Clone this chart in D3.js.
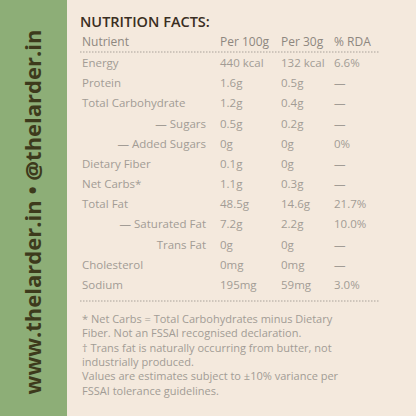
<!DOCTYPE html>
<html><head><meta charset="utf-8">
<script src="https://cdn.jsdelivr.net/npm/d3@7"></script>
<style>body{margin:0;background:#f4e9dd}text{font-family:"Open Sans",sans-serif}</style>
</head><body><svg width="416" height="416"></svg>
<script>
const nutrients = ['Energy','Protein','Total Carbohydrate','— Sugars','— Added Sugars','Dietary Fiber','Net Carbs*','Total Fat','— Saturated Fat','Trans Fat','Cholesterol','Sodium'];
const per100 = ['440 kcal','1.6g','1.2g','0.5g','0g','0.1g','1.1g','48.5g','7.2g','0g','0mg','195mg'];
const per30 = ['132 kcal','0.5g','0.4g','0.2g','0g','0g','0.3g','14.6g','2.2g','0g','0mg','59mg'];
const rda = ['6.6%','—','—','—','0%','—','—','21.7%','10.0%','—','—','3.0%'];
const indented = ['— Sugars','— Added Sugars','— Saturated Fat','Trans Fat'];
const headers = ['Nutrient','Per 100g','Per 30g','% RDA'];
const notes = ['* Net Carbs = Total Carbohydrates minus Dietary','Fiber. Not an FSSAI recognised declaration.','† Trans fat is naturally occurring from butter, not','industrially produced.','Values are estimates subject to ±10% variance per','FSSAI tolerance guidelines.'];

const svg = d3.select('svg');
svg.append('rect').attr('width',416).attr('height',416).attr('fill','#f4e9dd');
svg.append('rect').attr('width',67).attr('height',416).attr('fill','#8dae77');
svg.append('text').attr('transform','translate(41,212) rotate(-90)').attr('text-anchor','middle')
  .attr('fill','#3d3a1c').attr('font-size',22).attr('font-weight','bold').attr('font-family','DejaVu Serif')
  .text('www.thelarder.in  •  @thelarder.in');

svg.append('text').attr('x',80).attr('y',27).attr('font-size',14.5).attr('font-weight','600').attr('fill','#3a2e22').text('NUTRITION FACTS:');

const yScale = d3.scaleBand().domain(nutrients).range([53,295]);
const cols = [82,220,281,334];
const gray = '#a29c95';

svg.selectAll('.hd').data(headers).enter().append('text')
  .attr('x',(d,i)=>cols[i]).attr('y',46).attr('font-size',12).attr('fill','#8e877f').text(d=>d);

[52,301].forEach(y=>svg.append('line').attr('x1',80).attr('x2',380).attr('y1',y).attr('y2',y)
  .attr('stroke','#a9a29a').attr('stroke-dasharray','1.5,1.5'));

const rows = svg.selectAll('.row').data(nutrients).enter().append('g')
  .attr('transform',d=>`translate(0,${yScale(d)+yScale.bandwidth()/2+4})`);
rows.append('text').attr('x',d=>indented.includes(d)?206:cols[0])
  .attr('text-anchor',d=>indented.includes(d)?'end':'start')
  .attr('font-size',11.5).attr('fill',gray).text(d=>d);
[per100,per30,rda].forEach((arr,j)=>rows.append('text').attr('x',cols[j+1])
  .attr('font-size',11.5).attr('fill',gray).text((d,i)=>arr[i]));

svg.selectAll('.note').data(notes).enter().append('text')
  .attr('x',82).attr('y',(d,i)=>323+i*14.3).attr('font-size',11).attr('fill',gray).text(d=>d);
</script></body></html>
